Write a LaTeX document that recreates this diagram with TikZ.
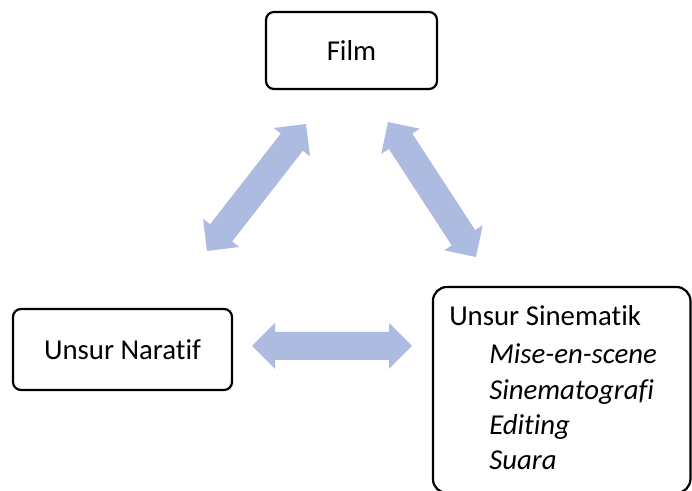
\documentclass[tikz,border=0pt]{standalone}
\usepackage{fontspec}
\setmainfont{Carlito}[Ligatures=NoCommon]
\usepackage{tikz}
\usetikzlibrary{calc,positioning}
\definecolor{arrowblue}{RGB}{174,187,224}
\tikzset{
node distance=100pt, % overwritten below for each node
box/.style={draw, line width=1.1pt, rounded corners=4pt, align=center,
  font=\fontsize{14.4}{17.6}\selectfont},
bigbox/.style={box, rounded corners=7pt},
list/.style={align=left, inner sep=0pt, anchor=base west,
  font=\fontsize{14.4}{17.6}\selectfont},
}
% block double arrow between two named points
\newcommand{\dblblock}[2]{%
  \fill[arrowblue]
    (#1) -- ($(#1)!11.5pt!(#2)!11.5pt!90:(#2)$)
    -- ($(#1)!11.5pt!(#2)!7pt!90:(#2)$)
    -- ($(#2)!11.5pt!(#1)!7pt!-90:(#1)$)
    -- ($(#2)!11.5pt!(#1)!11.5pt!-90:(#1)$)
    -- (#2)
    -- ($(#2)!11.5pt!(#1)!11.5pt!90:(#1)$)
    -- ($(#2)!11.5pt!(#1)!7pt!90:(#1)$)
    -- ($(#1)!11.5pt!(#2)!7pt!-90:(#2)$)
    -- ($(#1)!11.5pt!(#2)!11.5pt!-90:(#2)$)
    -- cycle;}
\begin{document}
\begin{tikzpicture}[x=0.5pt,y=-0.5pt,on grid]
   \useasboundingbox (0,0) rectangle (692,491);
   \node[box, minimum width=85.5pt, minimum height=38.5pt] (film) at (351.5,50.5) {Film};
   \node[box, minimum width=109.5pt, minimum height=40.5pt] (naratif)
     [below left=149.5pt and 114.5pt of film] {Unsur Naratif};
   \node[bigbox, minimum width=128.75pt, minimum height=103pt] (sinematik)
     [below right=169.75pt and 105.1pt of film] {};
   % base of the list is the base of its last line
   \node[list] (unsurlist) at ($(sinematik.north west)+(17,183.7)$)
     {Unsur Sinematik\\[1.6pt]
      \hspace*{20pt}\textit{Mise-en-scene}\\
      \hspace*{20pt}\textit{Sinematografi}\\
      \hspace*{20pt}\textit{Editing}\\
      \hspace*{20pt}\textit{Suara}};
   % arrow ends
   \coordinate (fn1) at (207,251);
   \coordinate (fn2) at (306,124);
   \coordinate (fs1) at (388,122);
   \coordinate (fs2) at (476,257);
   \coordinate (ns1) at (252,346);
   \coordinate (ns2) at (412,346);
   \dblblock{fn1}{fn2}
   \dblblock{fs1}{fs2}
   \dblblock{ns1}{ns2}
\end{tikzpicture}
\end{document}
